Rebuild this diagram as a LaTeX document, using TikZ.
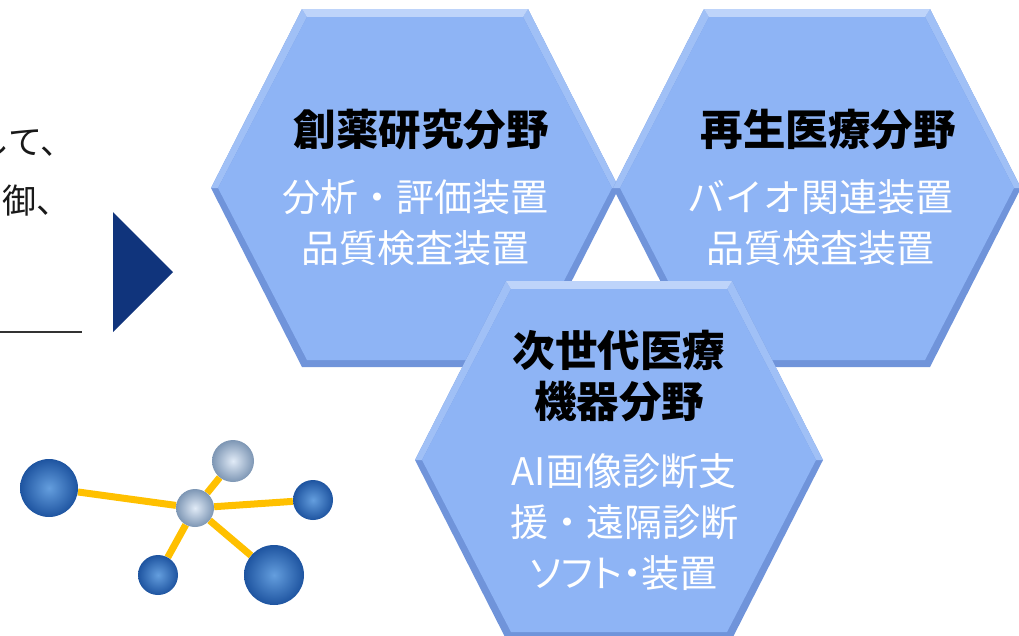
\documentclass[tikz,border=0pt]{standalone}
\usepackage{fontspec}
\setmainfont{Noto Sans CJK JP}
\usetikzlibrary{backgrounds}

\definecolor{hexblue}{RGB}{142,180,245}
\definecolor{hexlight}{RGB}{190,212,250}
\definecolor{hexmid}{RGB}{160,192,246}
\definecolor{hexdark}{RGB}{112,148,218}
\definecolor{navy}{RGB}{16,52,124}
\definecolor{bondyellow}{RGB}{255,192,0}

\tikzset{
    hexcell/.pic={
        % outer edge, then bevels, then the face
        \fill[hexdark] (-204,0) -- (-113,-179) -- (113,-179) -- (204,0) -- (113,179) -- (-113,179) -- cycle;
        \fill[hexmid] (-204,0) -- (-113,-179) -- (-108,-171) -- (-197,0) -- cycle;
        \fill[hexmid] (204,0) -- (113,-179) -- (108,-171) -- (197,0) -- cycle;
        \fill[hexlight] (-113,-179) -- (113,-179) -- (108,-171) -- (-108,-171) -- cycle;
        \fill[hexblue] (-197,0) -- (-108,-171) -- (108,-171) -- (197,0) -- (108,172) -- (-108,172) -- cycle;
    }
}

\begin{document}
\begin{tikzpicture}[x=1pt, y=-1pt]
    \tikzstyle{title}=[align=center, inner sep=0pt, font=\bfseries\fontsize{42.5}{51}\selectfont]
    \tikzstyle{items}=[align=center, inner sep=0pt, text=white, font=\fontsize{38}{51}\selectfont]
    \tikzstyle{note}=[anchor=east, inner sep=0pt, text=black!90, font=\fontsize{34}{40}\selectfont]
    \tikzstyle{bluesphere}=[circle, inner sep=0pt, inner color={rgb,255:red,100;green,158;blue,222}, outer color={rgb,255:red,30;green,84;blue,160}]
    \tikzstyle{lightsphere}=[circle, inner sep=0pt, inner color={rgb,255:red,225;green,235;blue,247}, outer color={rgb,255:red,125;green,150;blue,180}]
    \tikzstyle{bond}=[bondyellow, line width=7pt]

    \useasboundingbox (0,0) rectangle (1019,635);

    % cut-off text on the left
    \node[note] (noteA) at (75,142) {して、};
    \node[note] (noteB) at (71,201) {御、};
    \draw[black!80, line width=1.5pt] (0,332) -- (82,332);

    % arrow head
    \fill[navy] (113,212) -- (173,272) -- (113,332) -- cycle;

    % molecule
    \node[bluesphere, minimum size=58] (bigL) at (49,488) {};
    \node[lightsphere, minimum size=38] (hub) at (195,508) {};
    \node[lightsphere, minimum size=42] (up) at (233,461) {};
    \node[bluesphere, minimum size=40] (east) at (313,500) {};
    \node[bluesphere, minimum size=40] (lowL) at (158,575) {};
    \node[bluesphere, minimum size=60] (lowR) at (274,575) {};
    \begin{scope}[on background layer]
        \draw[bond] (hub) -- (bigL);
        \draw[bond] (hub) -- (up);
        \draw[bond] (hub) -- (east);
        \draw[bond] (hub) -- (lowL);
        \draw[bond] (hub) -- (lowR);
    \end{scope}

    % hexagons
    \pic at (415,188) {hexcell};
    \node[title] (drugT) at (421,130) {創薬研究分野};
    \node[items] (drugI) at (415,223) {分析・評価装置\\品質検査装置};

    \pic at (817,188) {hexcell};
    \node[title] (regenT) at (828,130) {再生医療分野};
    \node[items] (regenI) at (820,223) {バイオ関連装置\\品質検査装置};

    \pic at (619,460) {hexcell};
    \node[title] (nextT) at (619,376) {次世代医療\\機器分野};
    \node[items] (nextI) at (624,522) {AI画像診断支\\援・遠隔診断\\{\addfontfeature{RawFeature=+palt}ソフト・装置}};
\end{tikzpicture}
\end{document}
